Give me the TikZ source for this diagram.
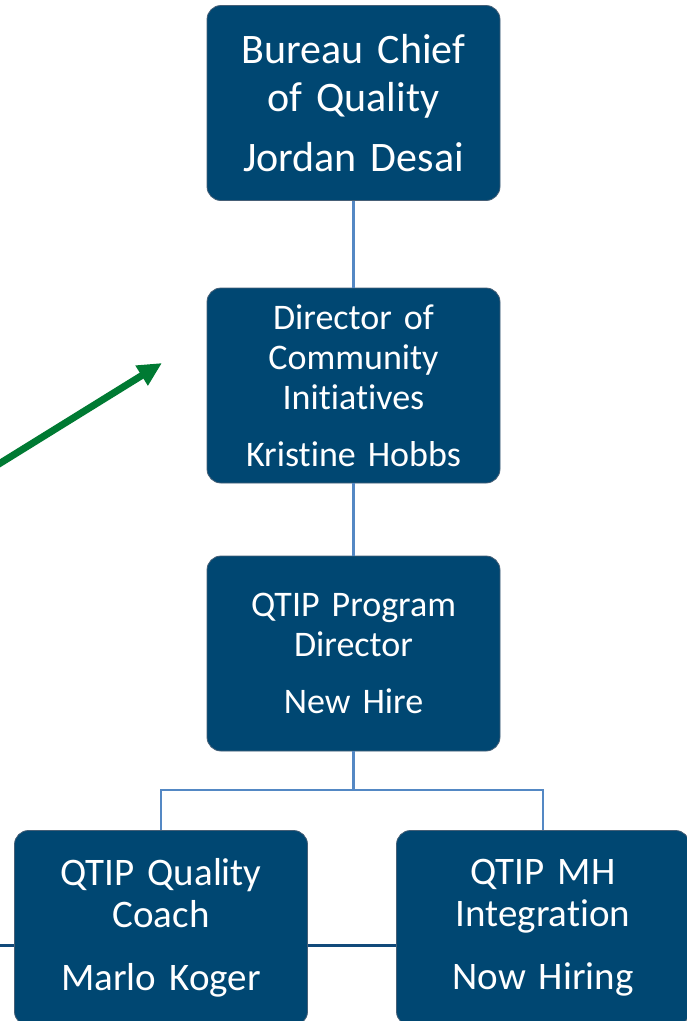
\documentclass[tikz,border=0pt]{standalone}
\usepackage{fontspec}
\setmainfont{Carlito}[Ligatures=NoCommon]
\usetikzlibrary{arrows.meta}
\definecolor{boxfill}{RGB}{0,71,114}
\definecolor{boxedge}{RGB}{70,95,118}
\definecolor{conn}{RGB}{84,136,196}
\definecolor{darkline}{RGB}{18,74,122}
\definecolor{arrowgreen}{RGB}{0,122,51}
\tikzset{
  orgbox/.style={rectangle, rounded corners=14pt, fill=boxfill, draw=boxedge, line width=0.8pt,
    minimum width=293pt, minimum height=195pt, text width=285pt, align=center, text=white, inner sep=0pt},
  bigtext/.style={font=\fontsize{42}{48}\selectfont},
  midtext/.style={font=\fontsize{36}{40}\selectfont},
  lowtext/.style={font=\fontsize{39}{42}\selectfont},
  conline/.style={draw=conn, line width=2.8pt},
  darkconn/.style={draw=darkline, line width=3pt},
  greenarrow/.style={draw=arrowgreen, line width=7pt, -{Triangle[length=24pt,width=22pt]}}
}
\begin{document}
\begin{tikzpicture}[x=1pt,y=-1pt]
\useasboundingbox (0,0) rectangle (687,1021);
\clip (0,0) rectangle (687,1021);
\node[orgbox, bigtext] (chief) at (353.5,103) {Bureau Chief\\of Quality\\[12pt]Jordan Desai};
\node[orgbox, midtext] (dir) at (353.5,385.5) {Director of\\Community\\Initiatives\\[17pt]Kristine Hobbs};
\node[orgbox, midtext] (qtip) at (353.5,653.5) {QTIP Program\\Director\\[17pt]New Hire};
\node[orgbox, lowtext] (coach) at (161,928) {QTIP Quality\\Coach\\[21pt]Marlo Koger};
\node[orgbox, lowtext] (mh) at (543,928) {QTIP MH\\Integration\\[21pt]Now Hiring};
\coordinate (leftend) at (-2,945);
\coordinate (split) at (353.5,790);
\draw[conline] (chief.south) -- (dir.north);
\draw[conline] (dir.south) -- (qtip.north);
\draw[conline] (qtip.south) -- (split) -| (coach.north);
\draw[conline] (split) -| (mh.north);
\draw[darkconn] (leftend) -- (leftend -| coach.west);
\draw[darkconn] (coach.east |- leftend) -- (mh.west |- leftend);
\coordinate (arrowstart) at (-6,467);
\coordinate (arrowtip) at (162,363);
\draw[greenarrow] (arrowstart) -- (arrowtip);
\end{tikzpicture}
\end{document}
